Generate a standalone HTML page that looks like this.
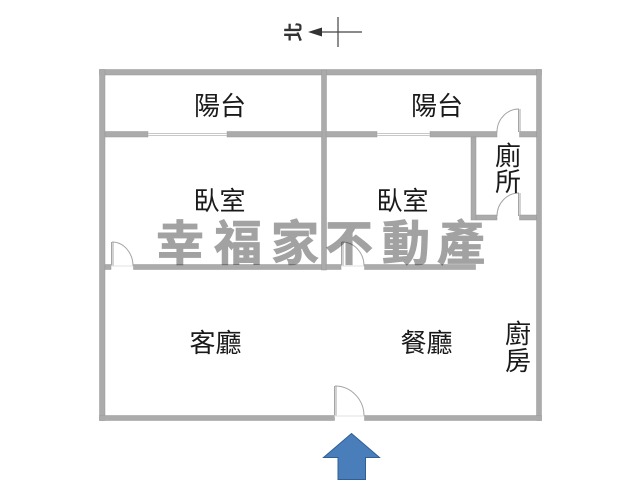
<!DOCTYPE html>
<html><head><meta charset="utf-8"><style>
html,body{margin:0;padding:0;background:#fff}
svg{display:block}
.l{font-family:"Liberation Sans","Noto Sans CJK TC",sans-serif;font-size:26px;fill:#1a1a1a;text-anchor:middle}
.w{font-family:"Liberation Sans","Noto Sans CJK TC",sans-serif;font-size:48px;font-weight:700;fill:#a2a2a2;stroke:#a2a2a2;stroke-width:.8;text-anchor:middle;mix-blend-mode:multiply}
</style></head><body>
<svg width="640" height="480" viewBox="0 0 640 480" xmlns="http://www.w3.org/2000/svg">
<g fill="#ababab" stroke="#999" stroke-width=".5">
<rect x="99.500" y="69.500" width="442" height="5.500"/>
<rect x="99.500" y="69.500" width="5.500" height="351"/>
<rect x="536.500" y="69.500" width="5" height="351"/>
<rect x="99.500" y="415.500" width="235" height="5"/>
<rect x="364.500" y="415.500" width="177" height="5"/>
<rect x="321.500" y="70" width="5" height="200"/>
<rect x="105" y="131.500" width="43" height="5.500"/>
<rect x="227" y="131.500" width="95" height="5.500"/>
<rect x="326" y="131.500" width="51" height="5.500"/>
<rect x="430" y="131.500" width="67" height="5.500"/>
<rect x="519.500" y="131.500" width="17" height="5.500"/>
<rect x="471" y="137" width="5" height="83"/>
<rect x="476" y="215" width="21" height="5"/>
<rect x="519.500" y="215" width="17" height="5"/>
<rect x="105" y="264.500" width="6" height="5"/>
<rect x="133.500" y="264.500" width="188" height="5"/>
<rect x="326" y="264.500" width="15" height="5"/>
<rect x="364.500" y="264.500" width="111" height="5"/>
</g>
<g fill="none" stroke="#a5a5a5" stroke-width="1">
<path d="M148 133.500H227M148 135.500H227" stroke="#c8c8c8"/>
<path d="M377 133.500H430M377 135.500H430" stroke="#c8c8c8"/>
<path d="M111.500 242V266M113 242V266"/>
<path d="M112 242A21 24 0 0 1 133 266"/>
<path d="M341.500 242V266M343 242V266"/>
<path d="M342 242A22 24 0 0 1 364 266"/>
<path d="M518.500 109V132M520 109V132"/>
<path d="M519 109A22 23 0 0 0 497 132"/>
<path d="M518.500 193V216M520 193V216"/>
<path d="M519 193A22 23 0 0 0 497 216"/>
<path d="M334.500 386V416M336 386V416"/>
<path d="M335 386A29 30 0 0 1 364 416"/>
<path d="M111 266H133M341 266H364M334 416H364" stroke="#e2e2e2"/>
</g>
<text class="w" x="180" y="260">幸</text>
<text class="w" x="238" y="260">福</text>
<text class="w" x="295" y="260">家</text>
<text class="w" x="349" y="260">不</text>
<text class="w" x="406" y="260">動</text>
<text class="w" x="461" y="260">產</text>
<text class="l" x="220" y="115">陽台</text>
<text class="l" x="437" y="115">陽台</text>
<text class="l" x="219.500" y="210">臥室</text>
<text class="l" x="402.500" y="210">臥室</text>
<text class="l" x="508" y="165">廁</text>
<text class="l" x="508" y="191">所</text>
<text class="l" x="215.500" y="352">客廳</text>
<text class="l" x="426.500" y="352">餐廳</text>
<text class="l" x="518" y="343">廚</text>
<text class="l" x="518" y="370">房</text>
<path d="M351.500 433.500L379.500 457.500H365.500V479.500H338V457.500H323.500Z" fill="#4a7ebb" stroke="#2f5f96" stroke-width="1"/>
<path d="M322 32H362M338 17V47" stroke="#444" stroke-width="1.200" fill="none"/>
<path d="M308 32L322 27.500V36.500Z" fill="#333"/>
<text transform="translate(300 32) rotate(-90)" text-anchor="middle" font-family="'Liberation Sans','Noto Sans CJK TC',sans-serif" font-size="19" font-weight="700" fill="#333">北</text>
</svg>
</body></html>
